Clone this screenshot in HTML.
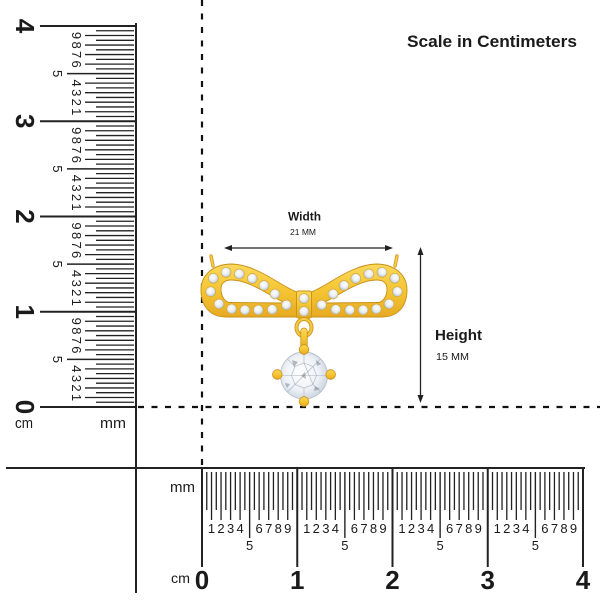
<!DOCTYPE html>
<html><head><meta charset="utf-8"><style>
html,body{margin:0;padding:0;background:#fff;}
svg{display:block;}
text{font-family:"Liberation Sans",sans-serif;fill:#1a1a1a;}
</style></head><body>
<svg width="600" height="600" viewBox="0 0 600 600" xmlns="http://www.w3.org/2000/svg" xmlns:xlink="http://www.w3.org/1999/xlink">
<defs>
<linearGradient id="gold" x1="0" y1="0" x2="0" y2="1"><stop offset="0" stop-color="#fbd95c"/><stop offset="0.5" stop-color="#f5c533"/><stop offset="1" stop-color="#e6aa22"/></linearGradient>
<radialGradient id="dia" cx="0.45" cy="0.4" r="0.62"><stop offset="0" stop-color="#ffffff"/><stop offset="0.55" stop-color="#e8edf3"/><stop offset="1" stop-color="#b3bcc9"/></radialGradient>
<radialGradient id="stone" cx="0.45" cy="0.45" r="0.6"><stop offset="0" stop-color="#ffffff"/><stop offset="0.6" stop-color="#eef2f7"/><stop offset="1" stop-color="#c9d1dc"/></radialGradient>
</defs>
<rect width="600" height="600" fill="#fff"/>

<!-- dashed guides -->
<line x1="202" y1="0" x2="202" y2="468" stroke="#111" stroke-width="2.2" stroke-dasharray="6 7.5"/>
<line x1="136" y1="407" x2="600" y2="407" stroke="#111" stroke-width="2.2" stroke-dasharray="6 7.5" stroke-dashoffset="11.5"/>

<!-- axes -->
<line x1="136" y1="23" x2="136" y2="593" stroke="#222" stroke-width="2"/>
<line x1="6" y1="468" x2="585" y2="468" stroke="#222" stroke-width="2"/>

<!-- left ruler ticks -->
<path stroke="#222" stroke-width="1.3" fill="none" d="M96 402.24H134M96 392.71H134M96 383.19H134M96 373.66H134M96 364.14H134M96 354.61H134M96 345.09H134M96 335.56H134M96 326.04H134M96 316.51H134M96 306.99H134M96 297.46H134M96 287.94H134M96 278.41H134M96 268.89H134M96 259.36H134M96 249.84H134M96 240.31H134M96 230.79H134M96 221.26H134M96 211.74H134M96 202.21H134M96 192.69H134M96 183.16H134M96 173.64H134M96 164.11H134M96 154.59H134M96 145.06H134M96 135.54H134M96 126.01H134M96 116.49H134M96 106.96H134M96 97.44H134M96 87.91H134M96 78.39H134M96 68.86H134M96 59.34H134M96 49.81H134M96 40.29H134M96 30.76H134"/>
<path stroke="#222" stroke-width="1.3" fill="none" d="M85 397.48H134M85 387.95H134M85 378.43H134M85 368.9H134M85 349.85H134M85 340.33H134M85 330.8H134M85 321.28H134M85 302.23H134M85 292.7H134M85 283.18H134M85 273.65H134M85 254.6H134M85 245.08H134M85 235.55H134M85 226.03H134M85 206.98H134M85 197.45H134M85 187.93H134M85 178.4H134M85 159.35H134M85 149.83H134M85 140.3H134M85 130.78H134M85 111.73H134M85 102.2H134M85 92.68H134M85 83.15H134M85 64.1H134M85 54.58H134M85 45.05H134M85 35.53H134"/>
<path stroke="#222" stroke-width="1.4" fill="none" d="M67 359.38H134M67 264.13H134M67 168.88H134M67 73.63H134"/>
<path stroke="#222" stroke-width="2" fill="none" d="M40 407H136M40 311.75H136M40 216.5H136M40 121.25H136M40 26H136"/>

<!-- left ruler labels (rotated) -->
<g font-size="13" text-anchor="middle">
<text transform="translate(72,397.48) rotate(90)">1</text>
<text transform="translate(72,387.95) rotate(90)">2</text>
<text transform="translate(72,378.43) rotate(90)">3</text>
<text transform="translate(72,368.9) rotate(90)">4</text>
<text transform="translate(53,359.38) rotate(90)">5</text>
<text transform="translate(72,349.85) rotate(90)">6</text>
<text transform="translate(72,340.33) rotate(90)">7</text>
<text transform="translate(72,330.8) rotate(90)">8</text>
<text transform="translate(72,321.28) rotate(90)">9</text>
<text transform="translate(72,302.23) rotate(90)">1</text>
<text transform="translate(72,292.7) rotate(90)">2</text>
<text transform="translate(72,283.18) rotate(90)">3</text>
<text transform="translate(72,273.65) rotate(90)">4</text>
<text transform="translate(53,264.13) rotate(90)">5</text>
<text transform="translate(72,254.6) rotate(90)">6</text>
<text transform="translate(72,245.08) rotate(90)">7</text>
<text transform="translate(72,235.55) rotate(90)">8</text>
<text transform="translate(72,226.03) rotate(90)">9</text>
<text transform="translate(72,206.98) rotate(90)">1</text>
<text transform="translate(72,197.45) rotate(90)">2</text>
<text transform="translate(72,187.93) rotate(90)">3</text>
<text transform="translate(72,178.4) rotate(90)">4</text>
<text transform="translate(53,168.88) rotate(90)">5</text>
<text transform="translate(72,159.35) rotate(90)">6</text>
<text transform="translate(72,149.83) rotate(90)">7</text>
<text transform="translate(72,140.3) rotate(90)">8</text>
<text transform="translate(72,130.78) rotate(90)">9</text>
<text transform="translate(72,111.73) rotate(90)">1</text>
<text transform="translate(72,102.2) rotate(90)">2</text>
<text transform="translate(72,92.68) rotate(90)">3</text>
<text transform="translate(72,83.15) rotate(90)">4</text>
<text transform="translate(53,73.63) rotate(90)">5</text>
<text transform="translate(72,64.1) rotate(90)">6</text>
<text transform="translate(72,54.58) rotate(90)">7</text>
<text transform="translate(72,45.05) rotate(90)">8</text>
<text transform="translate(72,35.53) rotate(90)">9</text>
</g>
<g font-size="26" font-weight="bold" text-anchor="middle">
<text transform="translate(16,407) rotate(90)">0</text>
<text transform="translate(16,311.75) rotate(90)">1</text>
<text transform="translate(16,216.5) rotate(90)">2</text>
<text transform="translate(16,121.25) rotate(90)">3</text>
<text transform="translate(16,26) rotate(90)">4</text>
</g>
<text x="15" y="428" font-size="15" textLength="18" lengthAdjust="spacingAndGlyphs">cm</text>
<text x="100" y="428" font-size="15" textLength="26" lengthAdjust="spacingAndGlyphs">mm</text>

<!-- bottom ruler ticks -->
<path stroke="#222" stroke-width="1.3" fill="none" d="M206.76 472V510M216.29 472V510M225.81 472V510M235.34 472V510M244.86 472V510M254.39 472V510M263.91 472V510M273.44 472V510M282.96 472V510M292.49 472V510M302.01 472V510M311.54 472V510M321.06 472V510M330.59 472V510M340.11 472V510M349.64 472V510M359.16 472V510M368.69 472V510M378.21 472V510M387.74 472V510M397.26 472V510M406.79 472V510M416.31 472V510M425.84 472V510M435.36 472V510M444.89 472V510M454.41 472V510M463.94 472V510M473.46 472V510M482.99 472V510M492.51 472V510M502.04 472V510M511.56 472V510M521.09 472V510M530.61 472V510M540.14 472V510M549.66 472V510M559.19 472V510M568.71 472V510M578.24 472V510"/>
<path stroke="#222" stroke-width="1.3" fill="none" d="M211.53 472V520M221.05 472V520M230.58 472V520M240.1 472V520M259.15 472V520M268.68 472V520M278.2 472V520M287.73 472V520M306.78 472V520M316.3 472V520M325.83 472V520M335.35 472V520M354.4 472V520M363.93 472V520M373.45 472V520M382.98 472V520M402.03 472V520M411.55 472V520M421.08 472V520M430.6 472V520M449.65 472V520M459.18 472V520M468.7 472V520M478.23 472V520M497.28 472V520M506.8 472V520M516.33 472V520M525.85 472V520M544.9 472V520M554.43 472V520M563.95 472V520M573.48 472V520"/>
<path stroke="#222" stroke-width="1.4" fill="none" d="M249.63 472V538M344.88 472V538M440.13 472V538M535.38 472V538"/>
<path stroke="#222" stroke-width="2" fill="none" d="M202 468V567M297.25 468V567M392.5 468V567M487.75 468V567M583 468V567"/>

<!-- bottom ruler labels -->
<g font-size="13" text-anchor="middle">
<text x="211.53" y="533">1</text><text x="221.05" y="533">2</text><text x="230.58" y="533">3</text><text x="240.1" y="533">4</text>
<text x="249.63" y="550">5</text>
<text x="259.15" y="533">6</text><text x="268.68" y="533">7</text><text x="278.2" y="533">8</text><text x="287.73" y="533">9</text>
<text x="306.78" y="533">1</text><text x="316.3" y="533">2</text><text x="325.83" y="533">3</text><text x="335.35" y="533">4</text>
<text x="344.88" y="550">5</text>
<text x="354.4" y="533">6</text><text x="363.93" y="533">7</text><text x="373.45" y="533">8</text><text x="382.98" y="533">9</text>
<text x="402.03" y="533">1</text><text x="411.55" y="533">2</text><text x="421.08" y="533">3</text><text x="430.6" y="533">4</text>
<text x="440.13" y="550">5</text>
<text x="449.65" y="533">6</text><text x="459.18" y="533">7</text><text x="468.7" y="533">8</text><text x="478.23" y="533">9</text>
<text x="497.28" y="533">1</text><text x="506.8" y="533">2</text><text x="516.33" y="533">3</text><text x="525.85" y="533">4</text>
<text x="535.38" y="550">5</text>
<text x="544.9" y="533">6</text><text x="554.43" y="533">7</text><text x="563.95" y="533">8</text><text x="573.48" y="533">9</text>
</g>
<g font-size="26" font-weight="bold" text-anchor="middle">
<text x="202" y="589">0</text>
<text x="297.25" y="589">1</text>
<text x="392.5" y="589">2</text>
<text x="487.75" y="589">3</text>
<text x="583" y="589">4</text>
</g>
<text x="170" y="492" font-size="15" textLength="25" lengthAdjust="spacingAndGlyphs">mm</text>
<text x="171" y="583" font-size="14" textLength="19" lengthAdjust="spacingAndGlyphs">cm</text>

<!-- title -->
<text x="407" y="47" font-size="17" font-weight="bold" textLength="170" lengthAdjust="spacingAndGlyphs">Scale in Centimeters</text>

<!-- width dimension -->
<text x="304.5" y="220.5" font-size="12" font-weight="bold" text-anchor="middle" textLength="33" lengthAdjust="spacingAndGlyphs">Width</text>
<text x="303" y="235" font-size="8.5" text-anchor="middle" textLength="26" lengthAdjust="spacingAndGlyphs">21 MM</text>
<line x1="228" y1="248" x2="389" y2="248" stroke="#222" stroke-width="1.3"/>
<polygon points="224,248 232,245 232,251" fill="#222"/>
<polygon points="393,248 385,245 385,251" fill="#222"/>

<!-- height dimension -->
<line x1="420.5" y1="251" x2="420.5" y2="399" stroke="#222" stroke-width="1.3"/>
<polygon points="420.5,247 417.5,255 423.5,255" fill="#222"/>
<polygon points="420.5,403 417.5,395 423.5,395" fill="#222"/>
<text x="435" y="340" font-size="15" font-weight="bold" textLength="47" lengthAdjust="spacingAndGlyphs">Height</text>
<text x="436" y="360" font-size="10.5" textLength="33" lengthAdjust="spacingAndGlyphs">15 MM</text>

<!-- pendant: left loop -->
<g id="leftloop">
<path fill-rule="evenodd" fill="url(#gold)" stroke="#c98f17" stroke-width="0.9" d="M297,292 C280,286 258,265 232,264 C212,264 201,276 201,290 C201,306 210,317 226,317 L297,317 Z M221,289 C221,283 225,280 231,280 C250,280 268,295 285,303 L230,302.5 C225,302.5 221,296 221,289 Z"/>
<line x1="211" y1="256" x2="213" y2="266" stroke="#d89d20" stroke-width="3.4" stroke-linecap="round"/>
<line x1="211" y1="256" x2="213" y2="266" stroke="#f7cf4e" stroke-width="1.6" stroke-linecap="round"/>
<g fill="url(#dia)" stroke="#d4a93c" stroke-width="0.7">
<circle cx="213.3" cy="278.3" r="5"/>
<circle cx="226" cy="272.3" r="5"/>
<circle cx="239.3" cy="274" r="5"/>
<circle cx="252.3" cy="278.5" r="5"/>
<circle cx="264" cy="285.5" r="5"/>
<circle cx="275" cy="294" r="5"/>
<circle cx="286.5" cy="305" r="5"/>
<circle cx="210.7" cy="291.7" r="5"/>
<circle cx="219" cy="304" r="5"/>
<circle cx="231.7" cy="309" r="5"/>
<circle cx="245" cy="310" r="5"/>
<circle cx="258.3" cy="310" r="5"/>
<circle cx="272.3" cy="309.5" r="5"/>
</g>
</g>
<!-- right loop (mirror) -->
<g transform="translate(608,0) scale(-1,1)">
<path fill-rule="evenodd" fill="url(#gold)" stroke="#c98f17" stroke-width="0.9" d="M297,292 C280,286 258,265 232,264 C212,264 201,276 201,290 C201,306 210,317 226,317 L297,317 Z M221,289 C221,283 225,280 231,280 C250,280 268,295 285,303 L230,302.5 C225,302.5 221,296 221,289 Z"/>
<line x1="211" y1="256" x2="213" y2="266" stroke="#d89d20" stroke-width="3.4" stroke-linecap="round"/>
<line x1="211" y1="256" x2="213" y2="266" stroke="#f7cf4e" stroke-width="1.6" stroke-linecap="round"/>
<g fill="url(#dia)" stroke="#d4a93c" stroke-width="0.7">
<circle cx="213.3" cy="278.3" r="5"/>
<circle cx="226" cy="272.3" r="5"/>
<circle cx="239.3" cy="274" r="5"/>
<circle cx="252.3" cy="278.5" r="5"/>
<circle cx="264" cy="285.5" r="5"/>
<circle cx="275" cy="294" r="5"/>
<circle cx="286.5" cy="305" r="5"/>
<circle cx="210.7" cy="291.7" r="5"/>
<circle cx="219" cy="304" r="5"/>
<circle cx="231.7" cy="309" r="5"/>
<circle cx="245" cy="310" r="5"/>
<circle cx="258.3" cy="310" r="5"/>
<circle cx="272.3" cy="309.5" r="5"/>
</g>
</g>
<!-- center piece -->
<rect x="296.5" y="291" width="15" height="27" rx="2" fill="url(#gold)" stroke="#c98f17" stroke-width="0.9"/>
<circle cx="304" cy="298.5" r="5" fill="url(#dia)" stroke="#d4a93c" stroke-width="0.7"/>
<circle cx="304" cy="311.5" r="5" fill="url(#dia)" stroke="#d4a93c" stroke-width="0.7"/>
<!-- bail -->
<ellipse cx="304" cy="327.5" rx="7.5" ry="8.5" fill="none" stroke="#d49a1e" stroke-width="4"/>
<ellipse cx="304" cy="327.5" rx="7.5" ry="8.5" fill="none" stroke="#f5cb45" stroke-width="2"/>
<rect x="300.8" y="328" width="6.4" height="21" rx="3" fill="url(#gold)" stroke="#c98f17" stroke-width="0.8"/>
<!-- stone -->
<circle cx="304" cy="375.5" r="23.5" fill="url(#stone)" stroke="#b9c0ca" stroke-width="0.9"/>
<g stroke="#a9b1bd" stroke-width="0.6" fill="none">
<polygon points="304,363 313,366.5 316.5,375.5 313,384.5 304,388 295,384.5 291.5,375.5 295,366.5"/>
<path d="M304,352 L304,363 M320.6,358.9 L313,366.5 M327.5,375.5 L316.5,375.5 M320.6,392.1 L313,384.5 M304,399 L304,388 M287.4,392.1 L295,384.5 M280.5,375.5 L291.5,375.5 M287.4,358.9 L295,366.5"/>
<path d="M304,363 L313,384.5 M313,366.5 L295,384.5 M316.5,375.5 L291.5,375.5"/>
</g>
<g fill="#7d8591" opacity="0.55">
<polygon points="292,360 298,362 294,367"/>
<polygon points="315,386 320,389 314,391"/>
<polygon points="301,376 305,372 306,379"/>
<polygon points="285,383 290,384 287,388"/>
<polygon points="316,360 321,364 317,366"/>
</g>
<!-- prongs -->
<g fill="url(#gold)" stroke="#c98f17" stroke-width="0.8">
<circle cx="304" cy="349.5" r="4.8"/>
<circle cx="277.3" cy="374.5" r="4.8"/>
<circle cx="330.7" cy="374.5" r="4.8"/>
<circle cx="304" cy="401.5" r="4.8"/>
</g>
</svg>
</body></html>
